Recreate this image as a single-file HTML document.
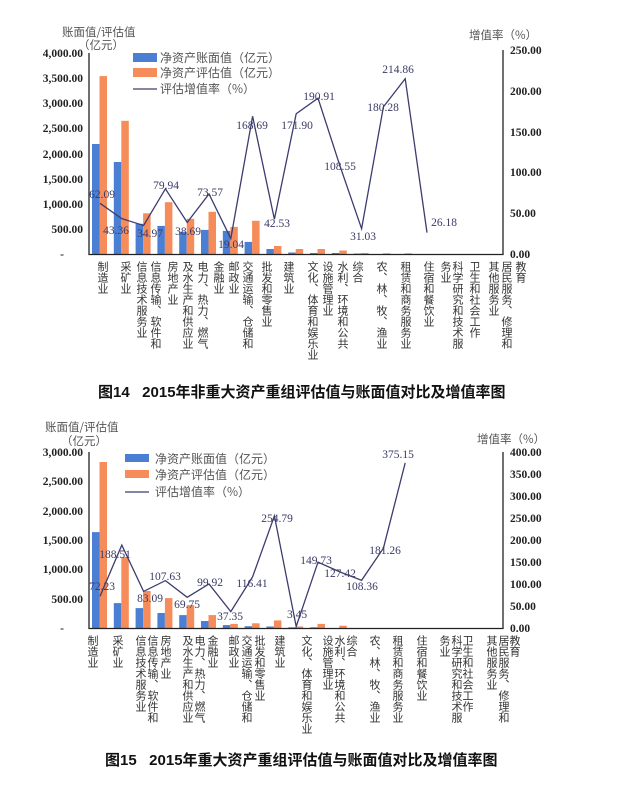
<!DOCTYPE html>
<html><head><meta charset="utf-8"><style>
html,body{margin:0;padding:0;background:#fff;}
body{width:620px;height:788px;position:relative;overflow:hidden;font-family:"Liberation Sans","Noto Sans CJK SC",sans-serif;}
svg{position:absolute;left:0;top:0;}
.v{position:absolute;writing-mode:vertical-rl;font-size:11px;line-height:12px;color:#333;font-family:"Noto Sans CJK SC",sans-serif;transform:translateX(-6px);}
.cap{position:absolute;font-size:15px;font-weight:bold;color:#111;font-family:"Liberation Sans","Noto Sans CJK SC",sans-serif;white-space:pre;}
</style></head><body>
<svg width="620" height="788" xmlns="http://www.w3.org/2000/svg" font-family="Liberation Serif, serif">
<g font-size="11.5" font-weight="bold" fill="#222" text-anchor="end">
<text x="83" y="57">4,000.00</text><text x="83" y="82">3,500.00</text><text x="83" y="107">3,000.00</text><text x="83" y="132">2,500.00</text><text x="83" y="158">2,000.00</text><text x="83" y="183">1,500.00</text><text x="83" y="208">1,000.00</text><text x="83" y="233">500.00</text><text x="64" y="258">-</text>
<text x="83" y="456">3,000.00</text><text x="83" y="485">2,500.00</text><text x="83" y="515">2,000.00</text><text x="83" y="544">1,500.00</text><text x="83" y="573">1,000.00</text><text x="83" y="603">500.00</text><text x="64" y="632">-</text>
</g>
<g font-size="11.5" font-weight="bold" fill="#222">
<text x="510" y="54">250.00</text><text x="510" y="95">200.00</text><text x="510" y="136">150.00</text><text x="510" y="176">100.00</text><text x="510" y="217">50.00</text><text x="510" y="258">0.00</text>
<text x="510" y="456">400.00</text><text x="510" y="478">350.00</text><text x="510" y="500">300.00</text><text x="510" y="522">250.00</text><text x="510" y="544">200.00</text><text x="510" y="566">150.00</text><text x="510" y="588">100.00</text><text x="510" y="610">50.00</text><text x="510" y="632">0.00</text>
</g>
<g font-family="Noto Sans CJK SC, sans-serif" font-size="11.5" fill="#555">
<text x="62" y="36">账面值/评估值</text><text x="78" y="49">（亿元）</text>
<text x="469" y="39">增值率（%）</text>
<text x="45" y="431">账面值/评估值</text><text x="61" y="445">（亿元）</text>
<text x="477" y="443">增值率（%）</text>
</g>
<!-- top legend -->
<rect x="133" y="53" width="24" height="9" fill="#4a7fd4"/>
<rect x="133" y="68" width="24" height="9" fill="#f58c5a"/>
<line x1="133" y1="89" x2="157" y2="89" stroke="#3c3c6e" stroke-width="1.3"/>
<g font-family="Noto Sans CJK SC, sans-serif" font-size="12" fill="#555">
<text x="160" y="62">净资产账面值（亿元）</text><text x="160" y="77">净资产评估值（亿元）</text><text x="160" y="93">评估增值率（%）</text>
</g>
<!-- bottom legend -->
<rect x="125" y="454" width="24" height="8" fill="#4a7fd4"/>
<rect x="125" y="470" width="24" height="8" fill="#f58c5a"/>
<line x1="125" y1="492" x2="149" y2="492" stroke="#3c3c6e" stroke-width="1.3"/>
<g font-family="Noto Sans CJK SC, sans-serif" font-size="12" fill="#555">
<text x="155" y="463">净资产账面值（亿元）</text><text x="155" y="479">净资产评估值（亿元）</text><text x="155" y="496">评估增值率（%）</text>
</g>
<!-- top bars -->
<g fill="#4a7fd4">
<rect x="92" y="144" width="7.5" height="110"/><rect x="113.8" y="162" width="7.5" height="92"/><rect x="135.6" y="223.8" width="7.5" height="30.2"/><rect x="157.4" y="225.9" width="7.5" height="28.1"/><rect x="179.2" y="231.9" width="7.5" height="22.1"/><rect x="201" y="229.9" width="7.5" height="24.1"/><rect x="222.8" y="230.9" width="7.5" height="23.1"/><rect x="244.6" y="241.9" width="7.5" height="12.1"/><rect x="266.4" y="249" width="7.5" height="5"/><rect x="288.2" y="252.5" width="7.5" height="1.5"/><rect x="310" y="253" width="7.5" height="1"/><rect x="331.8" y="253" width="7.5" height="1"/><rect x="353.6" y="253.5" width="7.5" height="0.5"/>
</g>
<g fill="#f58c5a">
<rect x="99.5" y="76.1" width="7.5" height="177.9"/><rect x="121.3" y="120.8" width="7.5" height="133.2"/><rect x="143.1" y="213.3" width="7.5" height="40.7"/><rect x="164.9" y="202.2" width="7.5" height="51.8"/><rect x="186.7" y="218.8" width="7.5" height="35.2"/><rect x="208.5" y="211.8" width="7.5" height="42.2"/><rect x="230.3" y="226.9" width="7.5" height="27.1"/><rect x="252.1" y="220.8" width="7.5" height="33.2"/><rect x="273.9" y="246" width="7.5" height="8"/><rect x="295.7" y="249" width="7.5" height="5"/><rect x="317.5" y="249" width="7.5" height="5"/><rect x="339.3" y="250.5" width="7.5" height="3.5"/><rect x="361.1" y="253" width="7.5" height="1"/><rect x="382.9" y="253.3" width="7.5" height="0.7"/><rect x="404.7" y="253.3" width="7.5" height="0.7"/>
</g>
<!-- bottom bars -->
<g fill="#4a7fd4">
<rect x="92" y="532.1" width="7.5" height="95.9"/><rect x="113.8" y="603.1" width="7.5" height="24.9"/><rect x="135.6" y="608.1" width="7.5" height="19.9"/><rect x="157.4" y="613" width="7.5" height="15"/><rect x="179.2" y="615.1" width="7.5" height="12.9"/><rect x="201" y="621" width="7.5" height="7"/><rect x="222.8" y="625.1" width="7.5" height="2.9"/><rect x="244.6" y="626.2" width="7.5" height="1.8"/><rect x="266.4" y="626.5" width="7.5" height="1.5"/><rect x="288.2" y="627.3" width="7.5" height="0.7"/><rect x="310" y="627.3" width="7.5" height="0.7"/>
</g>
<g fill="#f58c5a">
<rect x="99.5" y="462" width="7.5" height="166"/><rect x="121.3" y="557" width="7.5" height="71"/><rect x="143.1" y="591" width="7.5" height="37"/><rect x="164.9" y="598.1" width="7.5" height="29.9"/><rect x="186.7" y="605.1" width="7.5" height="22.9"/><rect x="208.5" y="615.1" width="7.5" height="12.9"/><rect x="230.3" y="623.9" width="7.5" height="4.1"/><rect x="252.1" y="623.3" width="7.5" height="4.7"/><rect x="273.9" y="620.4" width="7.5" height="7.6"/><rect x="295.7" y="626.5" width="7.5" height="1.5"/><rect x="317.5" y="623.9" width="7.5" height="4.1"/><rect x="339.3" y="625.7" width="7.5" height="2.3"/>
</g>
<!-- axes -->
<g stroke="#222" stroke-width="1.3" fill="none">
<polyline points="89,53 89,254.5 503,254.5 503,50"/>
<polyline points="89,452 89,628.5 503,628.5 503,452"/>
</g>
<!-- lines -->
<polyline fill="none" stroke="#3c3c6e" stroke-width="1.3" points="100,203.3 121.8,218.6 143.6,225.5 165.4,188.8 187.2,222.4 209,194 230.8,238.5 252.6,116.3 274.4,219.3 296.2,113.7 318,98.2 339.8,165.4 361.6,228.7 383.4,106.9 405.2,78.7 427,232.6"/>
<polyline fill="none" stroke="#3c3c6e" stroke-width="1.3" points="100,596.2 121.8,545.1 143.6,591.4 165.4,580.6 187.2,597.3 209,584 230.8,611.6 252.6,576.8 274.4,515.9 296.2,626.5 318,562.1 339.8,571.9 361.6,580.3 383.4,548.2 405.2,462.9"/>
<g font-size="11.5" fill="#3a3a66" text-anchor="middle">
<text x="102" y="198">62.09</text><text x="116" y="234">43.36</text><text x="150" y="237">34.97</text><text x="166" y="189">79.94</text><text x="188" y="235">38.69</text><text x="210" y="196">73.57</text><text x="231" y="248">19.04</text><text x="252" y="129">168.69</text><text x="277" y="227">42.53</text><text x="297" y="129">171.90</text><text x="319" y="100">190.91</text><text x="340" y="170">108.55</text><text x="363" y="240">31.03</text><text x="383" y="111">180.28</text><text x="398" y="73">214.86</text><text x="444" y="226">26.18</text>
<text x="102" y="590">72.23</text><text x="115" y="558">188.51</text><text x="150" y="602">83.09</text><text x="165" y="580">107.63</text><text x="187" y="608">69.75</text><text x="210" y="586">99.92</text><text x="230" y="620">37.35</text><text x="252" y="587">116.41</text><text x="277" y="522">254.79</text><text x="297" y="618">3.45</text><text x="316" y="564">149.73</text><text x="340" y="577">127.42</text><text x="362" y="590">108.36</text><text x="385" y="554">181.26</text><text x="398" y="458">375.15</text>
</g>
</svg>
<!-- top x labels -->
<div class="v" style="left:103px;top:261px">制造业</div>
<div class="v" style="left:126px;top:261px">采矿业</div>
<div class="v" style="left:142px;top:261px">信息技术服务业</div>
<div class="v" style="left:156px;top:261px">信息传输、软件和</div>
<div class="v" style="left:173px;top:261px">房地产业</div>
<div class="v" style="left:188px;top:261px">及水生产和供应业</div>
<div class="v" style="left:203px;top:261px">电力、热力、燃气</div>
<div class="v" style="left:219px;top:261px">金融业</div>
<div class="v" style="left:234px;top:261px">邮政业</div>
<div class="v" style="left:248px;top:261px">交通运输、仓储和</div>
<div class="v" style="left:267px;top:261px">批发和零售业</div>
<div class="v" style="left:289px;top:261px">建筑业</div>
<div class="v" style="left:313px;top:261px">文化、体育和娱乐业</div>
<div class="v" style="left:328px;top:261px">设施管理业</div>
<div class="v" style="left:343px;top:261px">水利、环境和公共</div>
<div class="v" style="left:358px;top:261px">综合</div>
<div class="v" style="left:382px;top:261px">农、林、牧、渔业</div>
<div class="v" style="left:406px;top:261px">租赁和商务服务业</div>
<div class="v" style="left:429px;top:261px">住宿和餐饮业</div>
<div class="v" style="left:446px;top:261px">务业</div>
<div class="v" style="left:458px;top:261px">科学研究和技术服</div>
<div class="v" style="left:475px;top:261px">卫生和社会工作</div>
<div class="v" style="left:494px;top:261px">其他服务业</div>
<div class="v" style="left:507px;top:261px">居民服务、修理和</div>
<div class="v" style="left:521px;top:261px">教育</div>
<div class="cap" style="left:98px;top:381px">图14   2015年非重大资产重组评估值与账面值对比及增值率图</div>
<!-- bottom x labels -->
<div class="v" style="left:93px;top:635px">制造业</div>
<div class="v" style="left:118px;top:635px">采矿业</div>
<div class="v" style="left:141px;top:635px">信息技术服务业</div>
<div class="v" style="left:153px;top:635px">信息传输、软件和</div>
<div class="v" style="left:166px;top:635px">房地产业</div>
<div class="v" style="left:188px;top:635px">及水生产和供应业</div>
<div class="v" style="left:200px;top:635px">电力、热力、燃气</div>
<div class="v" style="left:213px;top:635px">金融业</div>
<div class="v" style="left:234px;top:635px">邮政业</div>
<div class="v" style="left:247px;top:635px">交通运输、仓储和</div>
<div class="v" style="left:260px;top:635px">批发和零售业</div>
<div class="v" style="left:280px;top:635px">建筑业</div>
<div class="v" style="left:307px;top:635px">文化、体育和娱乐业</div>
<div class="v" style="left:328px;top:635px">设施管理业</div>
<div class="v" style="left:340px;top:635px">水利、环境和公共</div>
<div class="v" style="left:352px;top:635px">综合</div>
<div class="v" style="left:375px;top:635px">农、林、牧、渔业</div>
<div class="v" style="left:398px;top:635px">租赁和商务服务业</div>
<div class="v" style="left:422px;top:635px">住宿和餐饮业</div>
<div class="v" style="left:445px;top:635px">务业</div>
<div class="v" style="left:457px;top:635px">科学研究和技术服</div>
<div class="v" style="left:468px;top:635px">卫生和社会工作</div>
<div class="v" style="left:492px;top:635px">其他服务业</div>
<div class="v" style="left:504px;top:635px">居民服务、修理和</div>
<div class="v" style="left:515px;top:635px">教育</div>
<div class="cap" style="left:105px;top:749px">图15   2015年重大资产重组评估值与账面值对比及增值率图</div>
</body></html>
